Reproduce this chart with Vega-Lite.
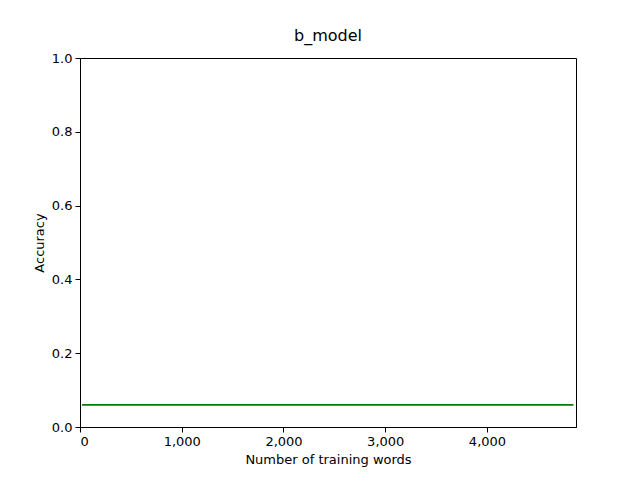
{
  "$schema": "https://vega.github.io/schema/vega-lite/v6.json",
  "width": 496,
  "height": 369,
  "autosize": {"type": "none"},
  "padding": {"left": 80, "top": 58, "right": 64, "bottom": 53},
  "background": "white",
  "title": {"text": "b_model", "font": "DejaVu Sans", "fontSize": 16, "fontWeight": "normal", "offset": 8, "color": "black"},
  "data": {"values": [
    {"words": 20, "accuracy": 0.06},
    {"words": 1000, "accuracy": 0.06},
    {"words": 2000, "accuracy": 0.06},
    {"words": 3000, "accuracy": 0.06},
    {"words": 4000, "accuracy": 0.06},
    {"words": 4850, "accuracy": 0.06}
  ]},
  "mark": {"type": "line", "color": "green", "strokeWidth": 1.6},
  "encoding": {
    "x": {"field": "words", "type": "quantitative", "title": "Number of training words",
      "scale": {"domain": [0, 4875], "nice": false},
      "axis": {"values": [0, 1000, 2000, 3000, 4000], "grid": false}},
    "y": {"field": "accuracy", "type": "quantitative", "title": "Accuracy",
      "scale": {"domain": [0, 1], "nice": false},
      "axis": {"values": [0, 0.2, 0.4, 0.6, 0.8, 1.0], "format": ".1f", "grid": false}}
  },
  "config": {
    "view": {"stroke": "black", "strokeWidth": 1},
    "axis": {"labelFont": "DejaVu Sans", "titleFont": "DejaVu Sans", "labelFontSize": 13, "titleFontSize": 13,
      "titleFontWeight": "normal", "labelColor": "black", "titleColor": "black", "domainColor": "black",
      "tickColor": "black", "tickSize": 5, "labelPadding": 3, "titlePadding": 5}
  }
}
